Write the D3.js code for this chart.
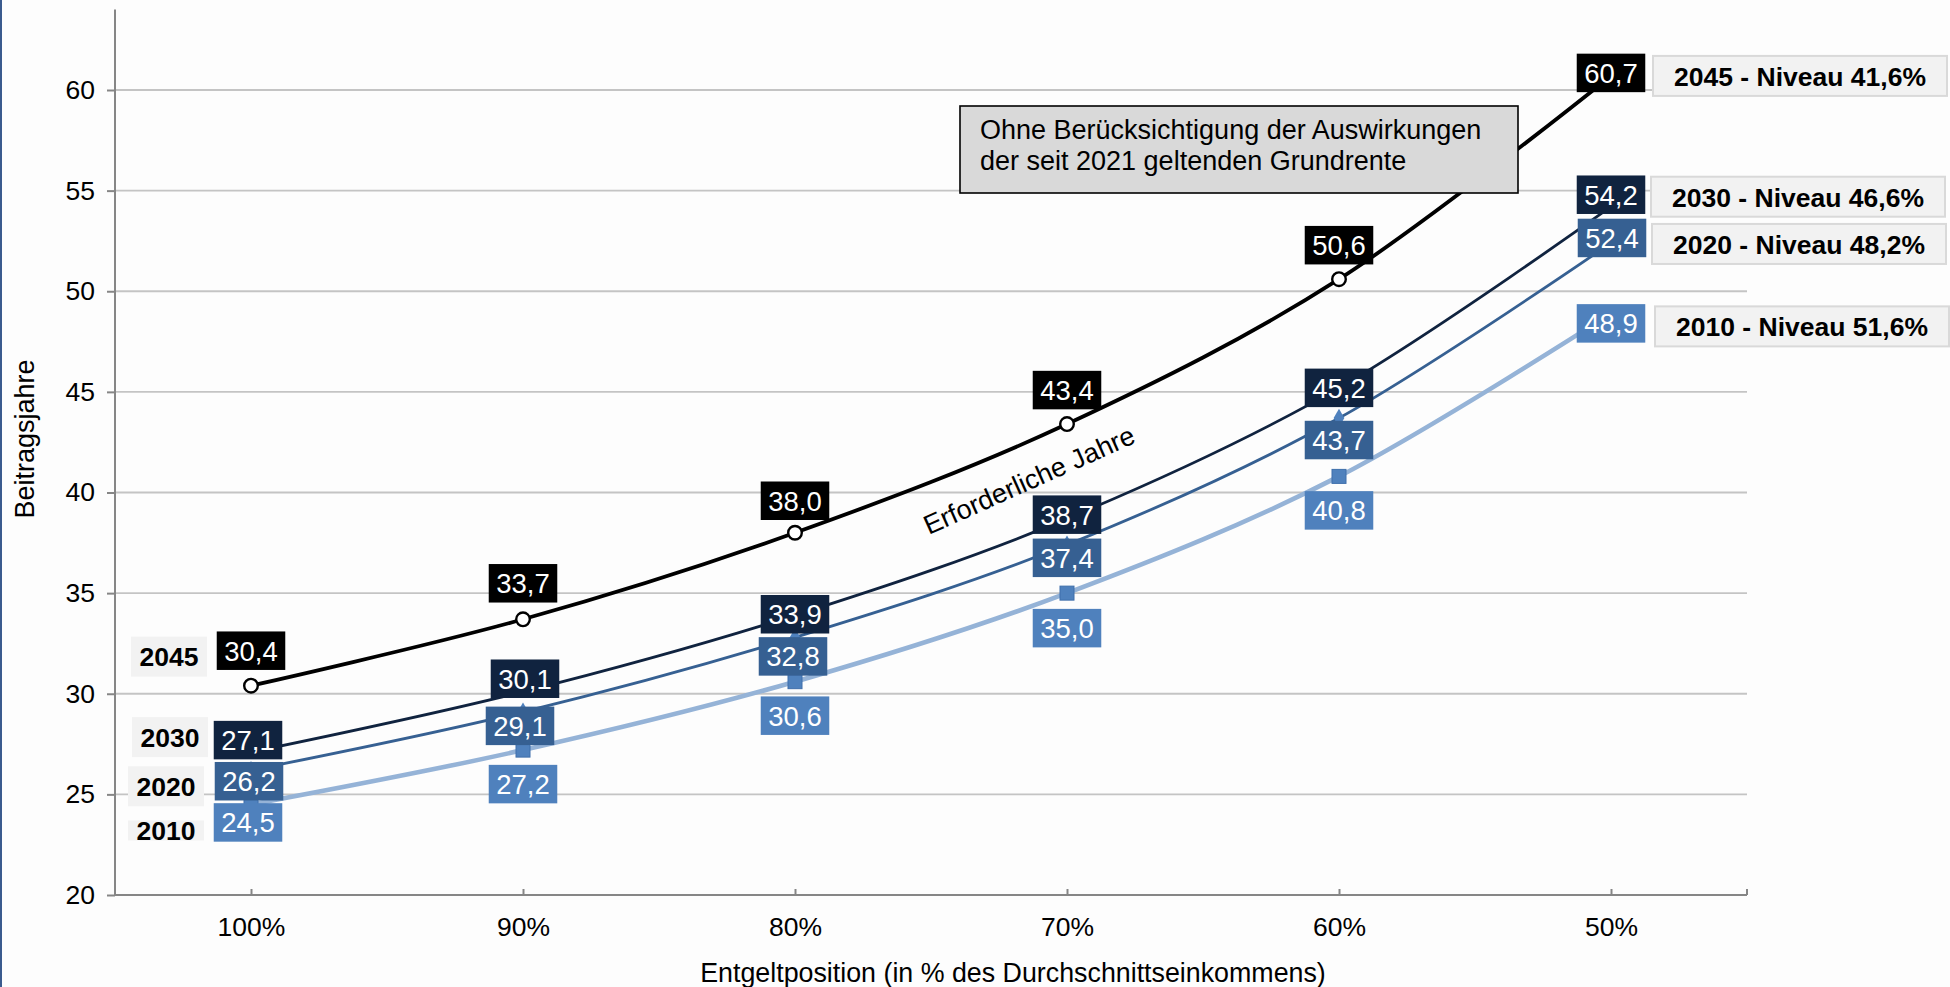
<!DOCTYPE html>
<html>
<head>
<meta charset="utf-8">
<script src="https://cdn.jsdelivr.net/npm/d3@7"></script>
<style>
  html, body { margin: 0; padding: 0; background: #fdfdfd; }
  svg { display: block; font-family: "Liberation Sans", Arial, sans-serif; }
</style>
</head>
<body>
<svg id="chart" width="1950" height="987"></svg>
<script>
// ---------------- data ----------------
const categories = ["100%", "90%", "80%", "70%", "60%", "50%"];
const years = ["2045", "2030", "2020", "2010"];
const values2045 = [30.4, 33.7, 38.0, 43.4, 50.6, 60.7];
const values2030 = [27.1, 30.1, 33.9, 38.7, 45.2, 54.2];
const values2020 = [26.2, 29.1, 32.8, 37.4, 43.7, 52.4];
const values2010 = [24.5, 27.2, 30.6, 35.0, 40.8, 48.9];
const niveaus = ["41,6%", "46,6%", "48,2%", "51,6%"];
const yTicks = [20, 25, 30, 35, 40, 45, 50, 55, 60];
const xTitle = "Entgeltposition (in % des Durchschnittseinkommens)";
const yTitle = "Beitragsjahre";
const curveLabel = "Erforderliche Jahre";
const noteLines = ["Ohne Berücksichtigung der Auswirkungen", "der seit 2021 geltenden Grundrente"];

// ---------------- styles / layout ----------------
const seriesValues = [values2045, values2030, values2020, values2010];
const styles = [
  { line: "#000000", box: "#000000", width: 3.8, marker: "circle" },
  { line: "#10233f", box: "#10233f", width: 2.8, marker: "none" },
  { line: "#366092", box: "#366092", width: 2.8, marker: "diamond" },
  { line: "#95b3d7", box: "#4f81bd", width: 4.6, marker: "square" }
];
// vertical nudges of the value labels relative to their points (px)
const labelDy = [
  [-35, -36, -32, -34, -34, -3],
  [-12, -13, -1, -4, 0, -12],
  [11, 14, 19, 13, 22, -5],
  [18, 34, 34, 35, 34, 10]
];
const labelDx = [
  [0, 0, 0, 0, 0, 0],
  [-3, 2, 0, 0, 0, 0],
  [-2, -3, -2, 0, 0, 1],
  [-3, 0, 0, 0, 0, 0]
];
// nudges for year tags (left) and niveau tags (right), relative to end points
const leftTagDy = [-29, -15, 16, 26];
const leftTagH = [40, 40, 40, 20];
const leftTagDx = [-120, -119, -123, -123];
const rightTagDy = [0, -10, 1, 13];
const rightTagDx = [42, 40, 41, 44];

const svg = d3.select("#chart");
const W = 1950, H = 987;
const plot = { left: 115, right: 1747, top: 9.5, bottom: 895 };
const FONT = "Liberation Sans, Arial, sans-serif";

svg.append("rect").attr("width", W).attr("height", H).attr("fill", "#fdfdfd");
svg.append("rect").attr("x", 0).attr("y", 0).attr("width", 2).attr("height", H).attr("fill", "#3b5b8e");

const x = d3.scalePoint().domain(categories).range([plot.left, plot.right]).padding(0.5);
const y = d3.scaleLinear().domain([20, 64]).range([plot.bottom, plot.top]);

const fmt = v => d3.format(".1f")(v).replace(".", ",");

// gridlines
svg.append("g").selectAll("line").data(yTicks.filter(t => t > 20)).join("line")
  .attr("x1", plot.left).attr("x2", plot.right)
  .attr("y1", d => y(d)).attr("y2", d => y(d))
  .attr("stroke", "#c4c4c4").attr("stroke-width", 1.8);

// y axis
const yAxis = svg.append("g").attr("transform", `translate(${plot.left},0)`)
  .call(d3.axisLeft(y).tickValues(yTicks).tickSize(8).tickPadding(12).tickFormat(d3.format("d")));
yAxis.select(".domain").remove();
yAxis.selectAll(".tick line").attr("stroke", "#868686").attr("stroke-width", 2);
yAxis.selectAll(".tick text").attr("font-size", 26.5).attr("fill", "#000").attr("font-family", FONT);
svg.append("line").attr("x1", plot.left).attr("x2", plot.left).attr("y1", plot.top).attr("y2", plot.bottom)
  .attr("stroke", "#868686").attr("stroke-width", 2);

// x axis
const xAxis = svg.append("g").attr("transform", `translate(0,${plot.bottom})`)
  .call(d3.axisBottom(x).tickSize(-6).tickPadding(22));
xAxis.select(".domain").remove();
xAxis.selectAll(".tick line").attr("stroke", "#868686").attr("stroke-width", 2);
xAxis.selectAll(".tick text").attr("font-size", 26.5).attr("fill", "#000").attr("font-family", FONT);
svg.append("line").attr("x1", plot.right).attr("x2", plot.right).attr("y1", plot.bottom - 6).attr("y2", plot.bottom)
  .attr("stroke", "#868686").attr("stroke-width", 2);
svg.append("line").attr("x1", plot.left).attr("x2", plot.right).attr("y1", plot.bottom).attr("y2", plot.bottom)
  .attr("stroke", "#868686").attr("stroke-width", 2);

// axis titles
svg.append("text").attr("x", 1013).attr("y", 982).attr("text-anchor", "middle")
  .attr("font-size", 26.8).attr("fill", "#000").text(xTitle);
svg.append("text").attr("transform", "translate(34,439) rotate(-90)").attr("text-anchor", "middle")
  .attr("font-size", 27).attr("fill", "#000").text(yTitle);

// lines
const lineGen = d3.line().x((d, i) => x(categories[i])).y(d => y(d)).curve(d3.curveCatmullRom.alpha(0));
const order = [3, 2, 1, 0];
order.forEach(s => {
  svg.append("path").datum(seriesValues[s]).attr("d", lineGen)
    .attr("fill", "none").attr("stroke", styles[s].line).attr("stroke-width", styles[s].width)
    .attr("stroke-linejoin", "round");
});

// markers
order.forEach(s => {
  const st = styles[s];
  const g = svg.append("g");
  seriesValues[s].forEach((v, i) => {
    const cx = x(categories[i]), cy = y(v);
    if (st.marker === "circle") {
      g.append("circle").attr("cx", cx).attr("cy", cy).attr("r", 6.8)
        .attr("fill", "#fff").attr("stroke", "#000").attr("stroke-width", 2.4);
    } else if (st.marker === "square") {
      g.append("rect").attr("x", cx - 7).attr("y", cy - 7).attr("width", 14).attr("height", 14)
        .attr("fill", "#4f81bd").attr("stroke", "#3f6fab").attr("stroke-width", 1);
    } else if (st.marker === "diamond") {
      g.append("path").attr("d", d3.symbol(d3.symbolDiamond, 100)())
        .attr("transform", `translate(${cx},${cy})`).attr("fill", "#4f81bd");
    }
  });
});

// value labels
const labelG = svg.append("g");
[0, 1, 2, 3].forEach(s => {
  seriesValues[s].forEach((v, i) => {
    const cx = x(categories[i]) + labelDx[s][i];
    const cy = y(v) + labelDy[s][i];
    const g = labelG.append("g");
    const t = g.append("text").attr("x", cx).attr("y", cy).attr("dy", "0.36em")
      .attr("text-anchor", "middle").attr("font-size", 27.5).attr("fill", "#fff").text(fmt(v));
    const w = t.node().getComputedTextLength() + 15;
    g.insert("rect", "text").attr("x", cx - w / 2).attr("y", cy - 19.25)
      .attr("width", w).attr("height", 38.5).attr("fill", styles[s].box);
  });
});

// year tags (left)
years.forEach((yr, s) => {
  const px = x(categories[0]), py = y(seriesValues[s][0]);
  const h = leftTagH[s], cy = py + leftTagDy[s], bx = px + leftTagDx[s];
  svg.append("rect").attr("x", bx).attr("y", cy - h / 2).attr("width", 76).attr("height", h).attr("fill", "#f2f2f2");
  svg.append("text").attr("x", bx + 38).attr("y", cy).attr("dy", "0.36em").attr("text-anchor", "middle")
    .attr("font-size", 26.5).attr("font-weight", "bold").attr("fill", "#000").text(yr);
});

// niveau tags (right)
years.forEach((yr, s) => {
  const last = categories.length - 1;
  const px = x(categories[last]), py = y(seriesValues[s][last]);
  const cy = py + rightTagDy[s], bx = px + rightTagDx[s];
  svg.append("rect").attr("x", bx).attr("y", cy - 20).attr("width", 294).attr("height", 40)
    .attr("fill", "#f2f2f2").attr("stroke", "#d9d9d9").attr("stroke-width", 2);
  svg.append("text").attr("x", bx + 147).attr("y", cy).attr("dy", "0.37em").attr("text-anchor", "middle")
    .attr("font-size", 26.5).attr("font-weight", "bold").attr("fill", "#000").text(`${yr} - Niveau ${niveaus[s]}`);
});

// note box
svg.append("rect").attr("x", 960).attr("y", 106).attr("width", 558).attr("height", 87)
  .attr("fill", "#d9d9d9").attr("stroke", "#000").attr("stroke-width", 1.6);
noteLines.forEach((ln, i) => {
  svg.append("text").attr("x", 980).attr("y", 139 + i * 31).attr("font-size", 27).attr("fill", "#000").text(ln);
});

// curve label
svg.append("text").attr("transform", "translate(1029,480) rotate(-24)").attr("text-anchor", "middle")
  .attr("dy", "0.35em").attr("font-size", 27).attr("fill", "#000").text(curveLabel);
</script>
</body>
</html>
